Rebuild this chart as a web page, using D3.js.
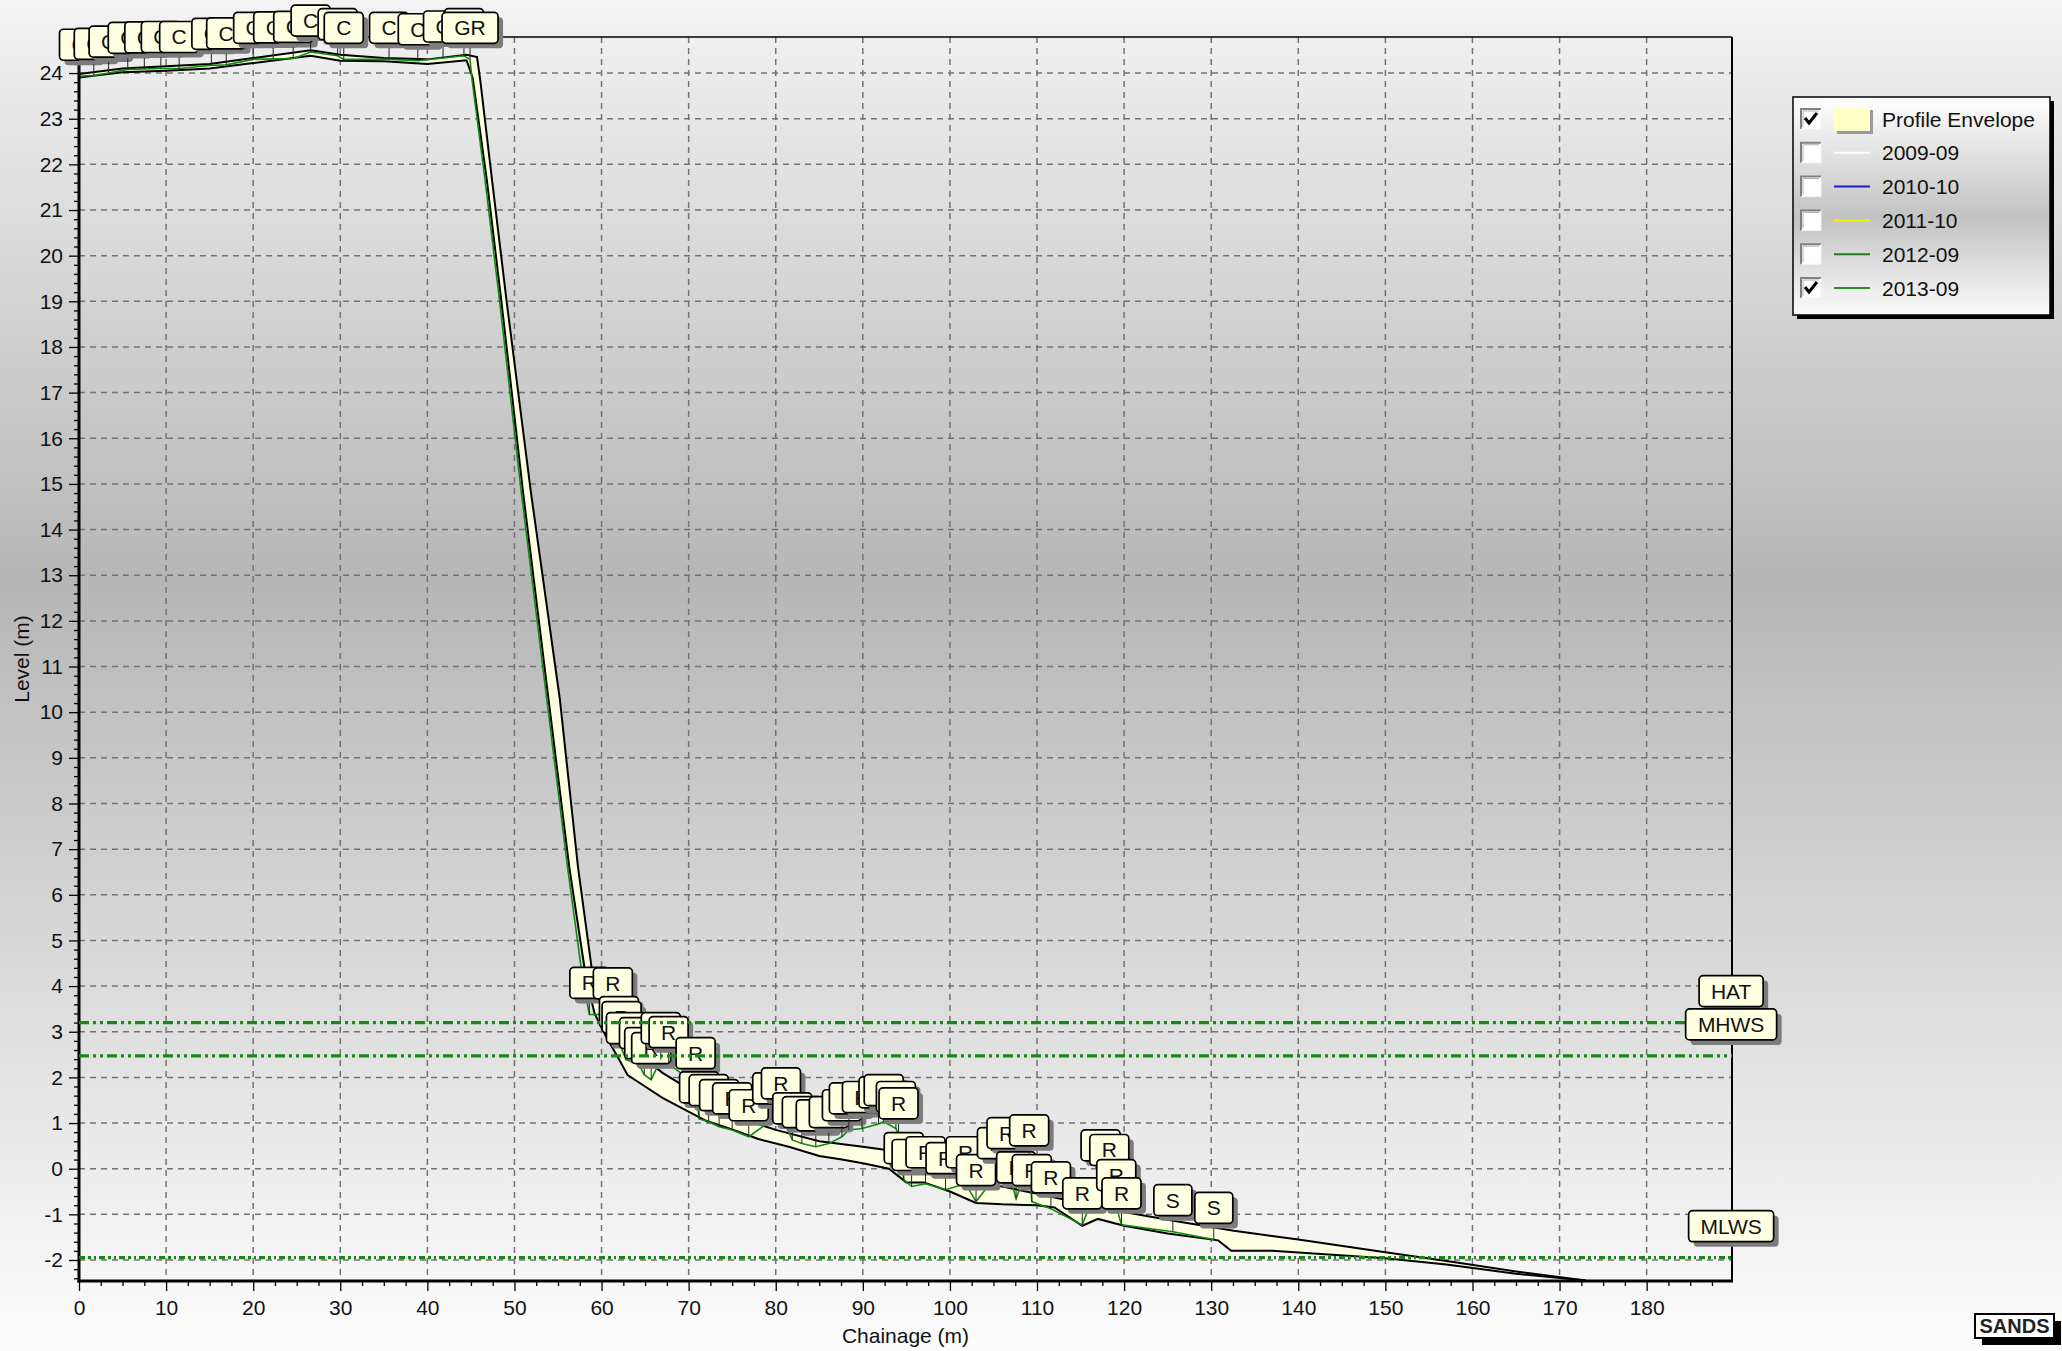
<!DOCTYPE html>
<html><head><meta charset="utf-8">
<script src="https://cdn.jsdelivr.net/npm/d3@7/dist/d3.min.js"></script>
<style>
html,body{margin:0;padding:0;overflow:hidden;background:#fff;}
svg{display:block;}
</style></head><body>
<svg id="chart" width="2062" height="1351"></svg>
<script>
// ---------------- DATA ----------------
// 2013-09 survey profile (chainage m, level m, feature code)
const chainage2013 = [0,1.7,3.4,5.6,7.5,9.4,11.5,15.2,16.9,20.0,22.3,24.6,26.6,29.7,30.4,35.6,38.9,41.8,44.2,44.9,
  45.1,46.6,48.3,50.8,53.7,56.1,57.8,
  58.6,61.3,62.0,62.3,62.8,64.3,64.9,65.7,66.8,67.7,70.8,71.2,72.3,73.5,75.0,76.9,79.6,80.6,81.9,83.0,84.6,86.1,87.6,88.4,89.9,91.8,92.4,93.8,94.1,
  94.7,95.6,97.2,99.5,101.8,103.0,105.4,106.5,107.6,109.1,109.4,111.6,115.2,117.3,118.3,119.1,119.7,125.6,130.3];
const level2013 = [23.93,23.95,24.0,24.08,24.09,24.1,24.1,24.17,24.18,24.3,24.31,24.32,24.46,24.38,24.3,24.3,24.27,24.33,24.38,24.3,
  23.9,21.7,19.0,14.8,10.3,6.6,4.2,
  3.38,3.37,2.74,2.63,2.39,2.28,2.06,1.95,2.39,2.30,1.84,1.09,1.03,0.92,0.85,0.70,1.07,1.18,0.63,0.55,0.48,0.55,0.70,0.85,0.88,0.98,1.03,0.88,0.74,
  -0.24,-0.39,-0.33,-0.46,-0.33,-0.72,-0.13,0.09,-0.66,0.15,-0.72,-0.88,-1.23,-0.18,-0.28,-0.83,-1.23,-1.38,-1.55];
const code2013 = ["C","C","C","C","C","C","C","C","C","C","C","C","C","C","C","C","C","C","C","GR",
  "","","","","","","",
  "R","R","R","R","R","R","R","R","R","R","R","R","R","R","R","R","R","R","R","R","R","R","R","R","R","R","R","R","R",
  "R","R","R","R","R","R","R","R","R","R","R","R","R","R","R","R","R","S","S"];

// Profile envelope (max / min of all surveys)
const envUpperChainage = [0,5,10,15,20,26.6,30,35,40,44.5,45.7,46.1,47.4,49.1,51.9,55.2,57.3,59.0,60.3,61.5,63,65,67,70,73,76,80,85,90,95,97,100,105,110,115,120,126,132.6,140,150,158,165,173];
const envUpperLevel    = [23.98,24.1,24.15,24.2,24.33,24.5,24.4,24.33,24.3,24.4,24.35,23.8,21.7,19.0,14.8,10.3,6.6,4.2,3.6,3.2,2.75,2.4,2.1,1.75,1.4,1.1,0.85,0.6,0.48,0.35,0.1,-0.15,-0.35,-0.55,-0.75,-0.95,-1.15,-1.36,-1.55,-1.83,-2.05,-2.25,-2.45];
const envLowerChainage = [0,5,10,15,20,26.6,30,35,40,44.5,45.2,46.8,48.5,51.0,53.9,56.3,58.2,59.2,60.5,62,63,65,67,69.5,72,75.4,78,81.5,85,87.6,90,93,95,97,100,103,106,110,112,115.2,117,120,125,130.8,132.3,137,150,157,165,173];
const envLowerLevel    = [23.9,24.02,24.05,24.1,24.22,24.38,24.27,24.26,24.2,24.28,23.9,21.7,19.0,14.8,10.3,6.6,4.2,3.4,2.9,2.4,2.05,1.8,1.55,1.3,1.05,0.83,0.65,0.48,0.28,0.2,0.12,0.0,-0.3,-0.3,-0.5,-0.75,-0.78,-0.8,-0.85,-1.25,-1.1,-1.25,-1.42,-1.57,-1.8,-1.8,-1.96,-2.1,-2.3,-2.45];

// Tidal levels
const tidalNames  = ["HAT","MHWS","MLWS"];
const tidalLevels = [3.2, 2.47, -1.95];

// Legend
const legendLabels  = ["Profile Envelope","2009-09","2010-10","2011-10","2012-09","2013-09"];
const legendChecked = [true,false,false,false,false,true];

// Axes
const xTickValues = d3.range(0, 181, 10);
const yTickValues = d3.range(-2, 25, 1);

// ---------------- STYLE ----------------
const FONT = '"Liberation Sans", Arial, Helvetica, sans-serif';
const legendColors = [null,"#ffffff","#1a1ad0","#f2f200","#1a7f1a","#2a8f2a"];
const W = 2062, H = 1351;
const PL = 79, PR = 1732, PT = 37, PB = 1281;

const svg = d3.select('#chart').attr('font-family', FONT);
const defs = svg.append('defs');
const bg = defs.append('linearGradient').attr('id','bg').attr('x1',0).attr('y1',0).attr('x2',0).attr('y2',1);
[[0,'#f3f3f3'],[0.43,'#b6b6b6'],[1,'#fdfdfd']].forEach(([o,c])=>bg.append('stop').attr('offset',o).attr('stop-color',c));
const lg = defs.append('linearGradient').attr('id','lg').attr('x1',0).attr('y1',0).attr('x2',0).attr('y2',1);
[[0,'#ffffff'],[0.55,'#c2c2c2'],[1,'#fbfbfb']].forEach(([o,c])=>lg.append('stop').attr('offset',o).attr('stop-color',c));

svg.append('rect').attr('width',W).attr('height',H).attr('fill','url(#bg)');

const x = d3.scaleLinear().domain([0, 189.8]).range([PL, PR]);
const y = d3.scaleLinear().domain([-2.46, 24.79]).range([PB, PT]);

// grid
const grid = svg.append('g').attr('stroke','#737373').attr('stroke-width',1.5).attr('stroke-dasharray','6,5').attr('fill','none');
xTickValues.filter(v=>v>0).forEach(v=>grid.append('line').attr('x1',x(v)).attr('x2',x(v)).attr('y1',PT).attr('y2',PB));
yTickValues.forEach(v=>grid.append('line').attr('x1',PL).attr('x2',PR).attr('y1',y(v)).attr('y2',y(v)));

// envelope
const upper = envUpperChainage.map((c,i)=>[c, envUpperLevel[i]]);
const lower = envLowerChainage.map((c,i)=>[c, envLowerLevel[i]]);
const line = d3.line().x(d=>x(d[0])).y(d=>y(d[1]));
svg.append('path').attr('d', line(upper.concat(lower.slice().reverse())) + 'Z').attr('fill','#ffffe1').attr('stroke','none');
svg.append('path').attr('d', line(upper)).attr('fill','none').attr('stroke','#000').attr('stroke-width',2);
svg.append('path').attr('d', line(lower)).attr('fill','none').attr('stroke','#000').attr('stroke-width',2);

// 2013-09 profile
const prof = chainage2013.map((c,i)=>[c, level2013[i], code2013[i]]);
svg.append('path').attr('d', line(prof)).attr('fill','none').attr('stroke','#0f8a0f').attr('stroke-width',1.6);

// axes
const axG = svg.append('g');
const yAxis = d3.axisLeft(y).tickValues(yTickValues).tickSize(10).tickPadding(6).tickFormat(d=>String(d));
const yMinor = d3.axisLeft(y).tickValues(d3.range(-24, 248, 2).map(v=>v/10).filter(v=>Math.abs(v-Math.round(v))>1e-6)).tickSize(5).tickFormat('');
const xAxis = d3.axisBottom(x).tickValues(xTickValues).tickSize(10).tickPadding(9).tickFormat(d=>String(d));
const xMinor = d3.axisBottom(x).tickValues(d3.range(0, 190, 2.5).filter(v=>v%10!==0)).tickSize(5).tickFormat('');
[ [yAxis,`translate(${PL},0)`], [yMinor,`translate(${PL},0)`], [xAxis,`translate(0,${PB})`], [xMinor,`translate(0,${PB})`] ].forEach(([a,t])=>{
  const g = axG.append('g').attr('transform',t).call(a);
  g.select('.domain').remove();
  g.attr('font-size',21).attr('font-family',FONT);
  g.selectAll('line').attr('stroke','#000').attr('stroke-width',1.3);
  g.selectAll('text').attr('fill','#111');
});
// frame
axG.append('line').attr('x1',PL).attr('x2',PR).attr('y1',PT).attr('y2',PT).attr('stroke','#000').attr('stroke-width',1.5);
axG.append('line').attr('x1',PR).attr('x2',PR).attr('y1',PT).attr('y2',PB).attr('stroke','#000').attr('stroke-width',2);
axG.append('line').attr('x1',PL).attr('x2',PL).attr('y1',PT).attr('y2',PB+1.5).attr('stroke','#000').attr('stroke-width',3);
axG.append('line').attr('x1',PL-1.5).attr('x2',PR+1).attr('y1',PB).attr('y2',PB).attr('stroke','#000').attr('stroke-width',3);

// measurement helper
const meas = svg.append('text').attr('font-size',21).attr('font-family',FONT).attr('visibility','hidden');
function tw(s){ meas.text(s); return meas.node().getComputedTextLength(); }

function mark(g, px, py, txt, arrow){
  const w = Math.round(tw(txt) + 24), h = 31;
  const bx = px - w/2, by = py - 16 - h;
  if (arrow) g.append('line').attr('x1',px).attr('x2',px).attr('y1',py).attr('y2',py-16).attr('stroke','#222').attr('stroke-width',1);
  g.append('rect').attr('x',bx+5).attr('y',by+5).attr('width',w).attr('height',h).attr('rx',4).attr('fill','#7c7c7c');
  g.append('rect').attr('x',bx).attr('y',by).attr('width',w).attr('height',h).attr('rx',4).attr('fill','#ffffe1').attr('stroke','#000').attr('stroke-width',1.7);
  g.append('text').attr('x',px).attr('y',by+h/2+7.5).attr('text-anchor','middle').attr('font-size',21).attr('fill','#111').text(txt);
}

// marks of 2013 profile
const mg = svg.append('g');
prof.forEach(d=>{ if (d[2]) mark(mg, x(d[0]), y(d[1]), d[2], true); });

// tidal lines
const tg = svg.append('g');
tidalLevels.forEach((lv,i)=>{
  tg.append('line').attr('x1',PL).attr('x2',PR).attr('y1',y(lv)).attr('y2',y(lv))
    .attr('stroke', i===2 ? '#1c861c' : '#168a16').attr('stroke-width', 3.2)
    .attr('stroke-dasharray', i===2 ? '6,3,3,3,2,3' : '10,4,3,4,3,4');
});
tidalLevels.forEach((lv,i)=>mark(tg, x(189.7), y(lv), tidalNames[i], false));

// axis titles
svg.append('text').attr('transform',`translate(21,${(PT+PB)/2}) rotate(-90)`).attr('text-anchor','middle').attr('dominant-baseline','central')
  .attr('font-size',21).attr('fill','#111').text('Level (m)');
svg.append('text').attr('x',(PL+PR)/2).attr('y',1343).attr('text-anchor','middle').attr('font-size',21).attr('fill','#111').text('Chainage (m)');

// legend
const LX = 1793, LY = 97, LW = 257, LH = 218;
const leg = svg.append('g');
leg.append('rect').attr('x',LX+4).attr('y',LY+4).attr('width',LW).attr('height',LH).attr('fill','#000');
leg.append('rect').attr('x',LX).attr('y',LY).attr('width',LW).attr('height',LH).attr('fill','url(#lg)').attr('stroke','#000').attr('stroke-width',1.5);
legendLabels.forEach((lab,i)=>{
  const cy = 119 + i*33.8;
  const cb = leg.append('g');
  cb.append('rect').attr('x',1801).attr('y',cy-10).attr('width',20).attr('height',20).attr('fill','#fff');
  cb.append('path').attr('d',`M1801,${cy+10} V${cy-10} H1821`).attr('fill','none').attr('stroke','#808080').attr('stroke-width',2);
  cb.append('path').attr('d',`M1803,${cy+8} V${cy-8} H1819`).attr('fill','none').attr('stroke','#b0b0b0').attr('stroke-width',1);
  cb.append('path').attr('d',`M1801,${cy+10} H1821 V${cy-10}`).attr('fill','none').attr('stroke','#f4f4f4').attr('stroke-width',1);
  if (legendChecked[i]) cb.append('path').attr('d',`M1805,${cy-1} L1809,${cy+4} L1817,${cy-6}`).attr('fill','none').attr('stroke','#000').attr('stroke-width',3);
  if (i===0){
    leg.append('rect').attr('x',1837).attr('y',cy-9).attr('width',36).attr('height',24).attr('fill','#9a9a9a');
    leg.append('rect').attr('x',1834).attr('y',cy-12).attr('width',36).attr('height',24).attr('fill','#ffffc8');
  } else {
    leg.append('line').attr('x1',1834).attr('x2',1870).attr('y1',cy).attr('y2',cy).attr('stroke',legendColors[i]).attr('stroke-width',2);
  }
  leg.append('text').attr('x',1882).attr('y',cy+7.5).attr('font-size',21).attr('fill','#111').text(lab);
});

// SANDS logo
const lgo = svg.append('g');
lgo.append('rect').attr('x',1982).attr('y',1321).attr('width',79).attr('height',24).attr('fill','#000');
lgo.append('rect').attr('x',1975).attr('y',1314).attr('width',79).attr('height',24).attr('fill','#fff').attr('stroke','#000').attr('stroke-width',2);
lgo.append('text').attr('x',2014.5).attr('y',1333).attr('text-anchor','middle').attr('font-size',20).attr('font-weight','bold').attr('fill','#222').text('SANDS');
meas.remove();
</script>
</body></html>
